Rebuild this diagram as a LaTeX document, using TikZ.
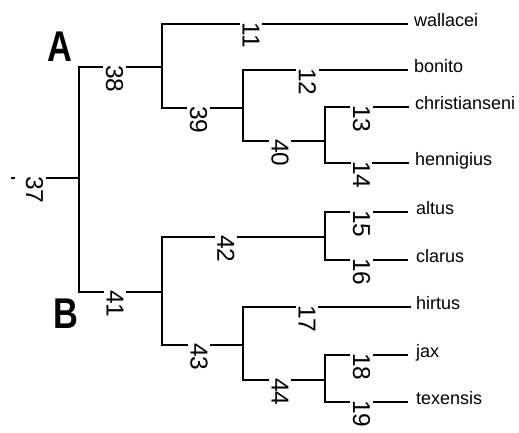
\documentclass[tikz,border=0pt]{standalone}
\usepackage{fontspec}
\setmainfont{Liberation Sans}
\begin{document}
\begin{tikzpicture}[x=1pt,y=-1pt,
  edge/.style={line width=1.8pt, line join=miter},
  num/.style={rotate=-90, anchor=west, fill=white, inner xsep=3pt, inner ysep=2.5pt,
    font=\fontsize{24.5}{26}\selectfont},
  taxon/.style={anchor=mid west, inner sep=0pt, font=\fontsize{18}{20}\selectfont},
  clade/.style={anchor=base, inner sep=0pt, xscale=0.8, font=\bfseries\fontsize{43}{43}\selectfont}]
\path[use as bounding box] (0,0) rectangle (519,433);
% junctions
\coordinate (J37) at (79,178);
\coordinate (J38) at (162,67);
\coordinate (J41) at (162,292);
\coordinate (J39) at (243,108);
\coordinate (J43) at (243,345);
\coordinate (J40) at (325,141);
\coordinate (J42) at (325,237);
\coordinate (J44) at (325,380);
% leaf ends
\coordinate (L11) at (408,24);
\coordinate (L12) at (408,70);
\coordinate (L13) at (409,107);
\coordinate (L14) at (409,163);
\coordinate (L15) at (408,212);
\coordinate (L16) at (408,260);
\coordinate (L17) at (411,307);
\coordinate (L18) at (408,355);
\coordinate (L19) at (408,402);
% root stub
\coordinate (R0) at (43,178);
\coordinate (T1) at (11,178);
\coordinate (T2) at (15,178);
% edges
\draw[edge] (R0) -- (J37);
\draw[edge] (T1) -- (T2);
\draw[edge] (J37) |- (J38);
\draw[edge] (J37) |- (J41);
\draw[edge] (J38) |- (L11);
\draw[edge] (J38) |- (J39);
\draw[edge] (J39) |- (L12);
\draw[edge] (J39) |- (J40);
\draw[edge] (J40) |- (L13);
\draw[edge] (J40) |- (L14);
\draw[edge] (J41) |- (J42);
\draw[edge] (J41) |- (J43);
\draw[edge] (J42) |- (L15);
\draw[edge] (J42) |- (L16);
\draw[edge] (J43) |- (L17);
\draw[edge] (J43) |- (J44);
\draw[edge] (J44) |- (L18);
\draw[edge] (J44) |- (L19);
% branch labels
\node[num] (n37) at (34.5,173) {37};
\node[num] (n38) at (114.5,62) {38};
\node[num] (n41) at (115,287) {41};
\node[num] (n39) at (198.5,103) {39};
\node[num] (n43) at (199,340) {43};
\node[num] (n40) at (280,136) {40};
\node[num] (n44) at (280,375) {44};
\node[num] (n42) at (226,232) {42};
\node[num] (n11) at (251,19) {11};
\node[num] (n12) at (307.5,65) {12};
\node[num] (n17) at (307,302) {17};
\node[num] (n13) at (361.5,102) {13};
\node[num] (n14) at (361.5,158) {14};
\node[num] (n15) at (361.5,207) {15};
\node[num] (n16) at (361.5,255) {16};
\node[num] (n18) at (361.5,350) {18};
\node[num] (n19) at (361.5,397) {19};
% taxa
\node[taxon] (t11) at (414,24) {wallacei};
\node[taxon] (t12) at (414,70) {bonito};
\node[taxon] (t13) at (415,107) {christianseni};
\node[taxon] (t14) at (415,163) {hennigius};
\node[taxon] (t15) at (416,212) {altus};
\node[taxon] (t16) at (416,260) {clarus};
\node[taxon] (t17) at (416,307) {hirtus};
\node[taxon] (t18) at (416,355) {jax};
\node[taxon] (t19) at (416,402) {texensis};
% clade letters
\node[clade] (A) at (59.5,62) {A};
\node[clade] (B) at (66,328) {B};
\end{tikzpicture}
\end{document}
